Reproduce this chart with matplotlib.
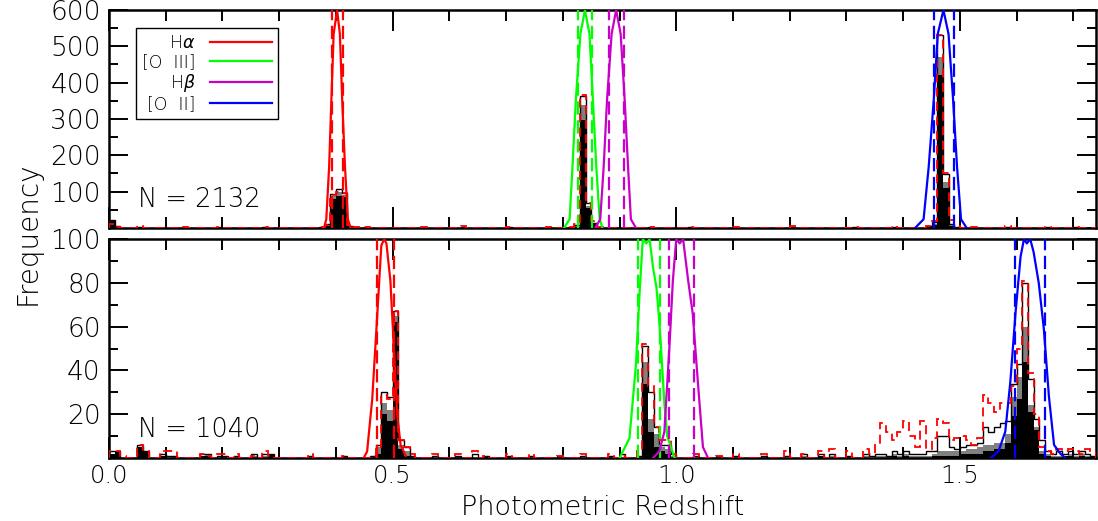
import numpy as np
import matplotlib.pyplot as plt
from matplotlib.ticker import MultipleLocator

plt.rcParams['font.family'] = ['DejaVu Sans']
plt.rcParams['font.weight'] = 'light'
plt.rcParams['mathtext.fontset'] = 'dejavusans'

# ---- histogram data (bin width 0.01, left bin edges) ----
top_z = [0.00, 0.01, 0.05, 0.13, 0.19, 0.27, 0.37, 0.38, 0.39, 0.40, 0.41, 0.42, 0.43,
         0.45, 0.55, 0.62, 0.70, 0.77, 0.81, 0.82, 0.83, 0.84, 0.85, 0.86,
         0.95, 1.02, 1.10, 1.20, 1.31, 1.38, 1.44, 1.45, 1.46, 1.47, 1.48, 1.49,
         1.52, 1.58, 1.65, 1.70]
top_black = [20, 3, 0, 0, 0, 2, 2, 5, 80, 88, 85, 3, 1,
             0, 0, 0, 1, 0, 1, 4, 296, 55, 10, 1,
             0, 0, 0, 1, 0, 0, 2, 8, 421, 110, 5, 1,
             0, 0, 0, 0]
top_grey = [21, 4, 2, 1, 1, 3, 3, 8, 88, 100, 92, 5, 2,
            2, 1, 2, 2, 1, 2, 6, 339, 60, 14, 2,
            1, 2, 1, 2, 1, 2, 3, 12, 472, 127, 10, 2,
            1, 2, 1, 2]
top_open = [22, 5, 3, 2, 2, 4, 3, 10, 94, 107, 97, 6, 3,
            3, 2, 3, 3, 2, 2, 8, 364, 68, 15, 3,
            2, 3, 2, 3, 2, 3, 5, 17, 532, 149, 12, 3,
            2, 3, 2, 3]
top_red = [10, 3, 5, 4, 3, 3, 4, 8, 90, 100, 96, 8, 3,
           4, 3, 5, 4, 3, 4, 12, 366, 70, 18, 4,
           3, 4, 3, 5, 4, 5, 6, 18, 532, 150, 22, 6,
           4, 5, 3, 4]

bot_z = [0.00, 0.01, 0.02, 0.05, 0.06, 0.09, 0.10, 0.11, 0.16, 0.17, 0.19, 0.20, 0.22, 0.25, 0.27, 0.28, 0.35, 0.41,
         0.46, 0.47, 0.48, 0.49, 0.50, 0.51, 0.52, 0.53, 0.57, 0.61, 0.64, 0.66, 0.70, 0.74, 0.79, 0.83, 0.88, 0.90,
         0.93, 0.94, 0.95, 0.96, 0.97, 0.98, 0.99, 1.03, 1.07, 1.10, 1.15, 1.19, 1.22, 1.25, 1.27, 1.30, 1.33, 1.34,
         1.35, 1.36, 1.37, 1.38, 1.39, 1.40, 1.41, 1.42, 1.43, 1.44, 1.45, 1.46, 1.47, 1.48, 1.49, 1.50, 1.51, 1.52,
         1.53, 1.54, 1.55, 1.56, 1.57, 1.58, 1.59, 1.60, 1.61, 1.62, 1.63, 1.64, 1.65, 1.66, 1.67, 1.68, 1.69, 1.70,
         1.71, 1.72, 1.73]
bot_black = [2, 3, 0, 5, 3, 1, 0, 0, 1, 1, 0, 0, 0, 0, 0, 2, 0, 0,
             0, 2, 20, 17, 62, 4, 1, 0, 0, 0, 0, 1, 0, 0, 0, 0, 0, 0,
             0, 34, 12, 5, 3, 2, 0, 0, 0, 0, 0, 0, 0, 1, 0, 0, 0, 0,
             0, 0, 0, 1, 0, 1, 0, 0, 0, 0, 1, 1, 1, 1, 1, 2, 2, 2,
             2, 3, 3, 4, 4, 7, 19, 27, 44, 21, 13, 2, 1, 0, 0, 1, 1, 0,
             1, 0, 0]
bot_grey = [2, 3, 0, 5, 3, 1, 0, 1, 1, 2, 0, 1, 0, 1, 1, 2, 0, 1,
            1, 5, 25, 22, 65, 6, 3, 1, 0, 1, 0, 1, 1, 0, 1, 0, 1, 0,
            1, 44, 18, 11, 5, 4, 1, 0, 1, 0, 1, 0, 1, 1, 1, 1, 1, 0,
            1, 1, 1, 2, 1, 2, 1, 1, 1, 1, 2, 3, 3, 3, 3, 3, 4, 4,
            5, 6, 6, 7, 7, 11, 28, 37, 60, 24, 14, 3, 2, 1, 1, 1, 2, 1,
            2, 1, 1]
bot_open = [3, 3, 0, 6, 3, 2, 1, 1, 2, 2, 1, 1, 1, 2, 2, 2, 1, 1,
            1, 6, 30, 28, 67, 8, 5, 1, 1, 1, 2, 1, 1, 1, 1, 1, 1, 2,
            1, 51, 30, 14, 6, 6, 2, 1, 1, 1, 1, 1, 2, 2, 2, 1, 2, 1,
            2, 2, 1, 3, 2, 3, 2, 2, 2, 3, 3, 10, 10, 5, 4, 5, 6, 6,
            7, 14, 12, 14, 16, 17, 34, 43, 80, 36, 18, 8, 3, 2, 3, 2, 3, 2,
            3, 2, 1]
bot_red = [3, 3, 1, 6, 3, 3, 3, 3, 2, 1, 2, 2, 2, 1, 3, 1, 2, 1,
           1, 4, 29, 27, 67, 8, 5, 2, 2, 2, 3, 1, 2, 2, 1, 2, 2, 1,
           3, 52, 33, 14, 8, 8, 2, 2, 1, 2, 2, 3, 2, 3, 4, 3, 4, 2,
           6, 16, 12, 8, 12, 17, 10, 5, 17, 4, 9, 18, 16, 8, 9, 10, 8, 6,
           9, 29, 25, 21, 25, 25, 33, 50, 81, 39, 20, 5, 3, 2, 4, 3, 4, 3,
           2, 4, 3]

# ---- filter curves (redshift, relative transmission) ----
line_names = ['H$\\alpha$', '[O  III]', 'H$\\beta$', '[O  II]']
line_colors = ['#ff0000', '#00ff00', '#c800c8', '#0000ff']

top_curve_z = [
    [0.379, 0.383, 0.388, 0.392, 0.396, 0.402, 0.407, 0.411, 0.416, 0.421, 0.426],
    [0.802, 0.812, 0.817, 0.823, 0.831, 0.839, 0.847, 0.853, 0.859, 0.865, 0.870],
    [0.857, 0.866, 0.872, 0.878, 0.886, 0.894, 0.902, 0.909, 0.915, 0.920, 0.929],
    [1.421, 1.436, 1.445, 1.454, 1.461, 1.471, 1.480, 1.488, 1.495, 1.502, 1.512],
]
top_curve_t = [
    [0.0, 0.04, 0.28, 0.59, 0.89, 1.0, 0.89, 0.59, 0.28, 0.04, 0.0],
    [0.0, 0.04, 0.28, 0.59, 0.89, 1.0, 0.89, 0.59, 0.28, 0.04, 0.0],
    [0.0, 0.04, 0.28, 0.59, 0.89, 1.0, 0.89, 0.59, 0.28, 0.04, 0.0],
    [0.0, 0.04, 0.28, 0.59, 0.89, 1.0, 0.89, 0.59, 0.28, 0.04, 0.0],
]
bot_curve_z = [
    [0.449, 0.455, 0.464, 0.473, 0.480, 0.485, 0.489, 0.496, 0.502, 0.508, 0.514, 0.523],
    [0.900, 0.9175, 0.929, 0.935, 0.941, 0.947, 0.953, 0.959, 0.965, 0.969, 0.973, 0.979, 0.984, 0.997],
    [0.959, 0.970, 0.979, 0.988, 0.994, 1.000, 1.006, 1.012, 1.021, 1.029, 1.038, 1.047, 1.056],
    [1.554, 1.568, 1.580, 1.589, 1.598, 1.607, 1.613, 1.618, 1.624, 1.630, 1.639, 1.648, 1.657, 1.666, 1.677, 1.686],
]
bot_curve_t = [
    [0.0, 0.03, 0.27, 0.66, 0.97, 1.0, 0.98, 0.81, 0.51, 0.20, 0.06, 0.01],
    [0.0, 0.09, 0.43, 0.74, 1.0, 0.98, 1.0, 0.87, 0.78, 0.66, 0.51, 0.25, 0.10, 0.0],
    [0.0, 0.03, 0.12, 0.51, 0.81, 1.0, 0.98, 1.0, 0.81, 0.66, 0.35, 0.05, 0.0],
    [0.0, 0.03, 0.12, 0.35, 0.66, 0.92, 1.0, 0.98, 1.0, 0.94, 0.80, 0.59, 0.28, 0.06, 0.02, 0.0],
]
top_fwhm = [(0.393, 0.412), (0.826, 0.852), (0.881, 0.907), (1.454, 1.490)]
bot_fwhm = [(0.472, 0.502), (0.932, 0.972), (0.988, 1.031), (1.597, 1.650)]

top_ymax, bot_ymax = 600, 100
top_yticks = [100, 200, 300, 400, 500, 600]
bot_yticks = [20, 40, 60, 80, 100]
x_ticklabels = ['0.0', '0.5', '1.0', '1.5']
top_n, bot_n = 2132, 1040

edges = np.round(np.arange(0, 1.7501, 0.01), 2)


def expand(z, vals):
    full = np.zeros(len(edges) - 1)
    full[np.rint(np.array(z) / 0.01).astype(int)] = vals
    return full


def draw_panel(ax, z, black, grey, opn, red, cz, ct, fwhm, ymax, yticks, minor_y, n):
    ax.stairs(expand(z, grey), edges, fill=True, color='#808080', zorder=1)
    ax.stairs(expand(z, black), edges, fill=True, color='black', zorder=2)
    ax.stairs(expand(z, opn), edges, color='black', lw=1.0, zorder=3)
    ax.stairs(expand(z, red), edges, color='red', lw=1.3, ls=(0, (5, 3)), zorder=4)
    handles = []
    for zz, tt, (lo, hi), c, name in zip(cz, ct, fwhm, line_colors, line_names):
        h, = ax.plot(zz, np.array(tt) * ymax, color=c, lw=1.6, zorder=5, label=name)
        handles.append(h)
        for v in (lo, hi):
            ax.axvline(v, color=c, lw=1.6, ls=(0, (6, 2.5)), zorder=5)
    ax.set_xlim(0, 1.74)
    ax.set_ylim(0, ymax)
    ax.xaxis.set_major_locator(MultipleLocator(0.5))
    ax.xaxis.set_minor_locator(MultipleLocator(0.1))
    ax.set_yticks(yticks)
    ax.yaxis.set_minor_locator(MultipleLocator(minor_y))
    ax.tick_params(which='both', direction='in', top=True, right=True, width=1.4,
                   labelsize=19)
    ax.tick_params(axis='x', which='major', length=15)
    ax.tick_params(axis='x', which='minor', length=8)
    ax.tick_params(axis='y', which='major', length=14, pad=6)
    ax.tick_params(axis='y', which='minor', length=6.5)
    for s in ax.spines.values():
        s.set_linewidth(1.8)
    ax.text(0.029, 0.096, f'N = {n}', transform=ax.transAxes, fontsize=18.5,
            va='baseline', ha='left')
    return handles


fig = plt.figure(figsize=(10.98, 5.21), dpi=100)
ax_top = fig.add_axes([0.0993, 0.5624, 0.8989, 0.4184])
ax_bot = fig.add_axes([0.0993, 0.1209, 0.8989, 0.4203])

handles = draw_panel(ax_top, top_z, top_black, top_grey, top_open, top_red,
                     top_curve_z, top_curve_t, top_fwhm, top_ymax, top_yticks, 50, top_n)
draw_panel(ax_bot, bot_z, bot_black, bot_grey, bot_open, bot_red,
           bot_curve_z, bot_curve_t, bot_fwhm, bot_ymax, bot_yticks, 10, bot_n)

ax_top.tick_params(labelbottom=False)
ax_bot.set_xticks([0.0, 0.5, 1.0, 1.5])
ax_bot.set_xticklabels(x_ticklabels)
ax_bot.tick_params(axis='x', pad=4, labelsize=17.5)

leg = ax_top.legend(handles=handles, loc='upper left', bbox_to_anchor=(0.0274, 0.917),
                    borderaxespad=0, markerfirst=False, frameon=True, fancybox=False,
                    edgecolor='black', framealpha=1, fontsize=12.5, handlelength=3.6,
                    handletextpad=0.8, labelspacing=0.05, borderpad=0.35)
leg.get_frame().set_linewidth(1.0)

fig.text(0.5487, 0.001, 'Photometric Redshift', ha='center', va='bottom', fontsize=19.5)
fig.text(0.025, 0.553, 'Frequency', ha='center', va='center', rotation=90, fontsize=20)

fig.savefig('out.png', dpi=100)
